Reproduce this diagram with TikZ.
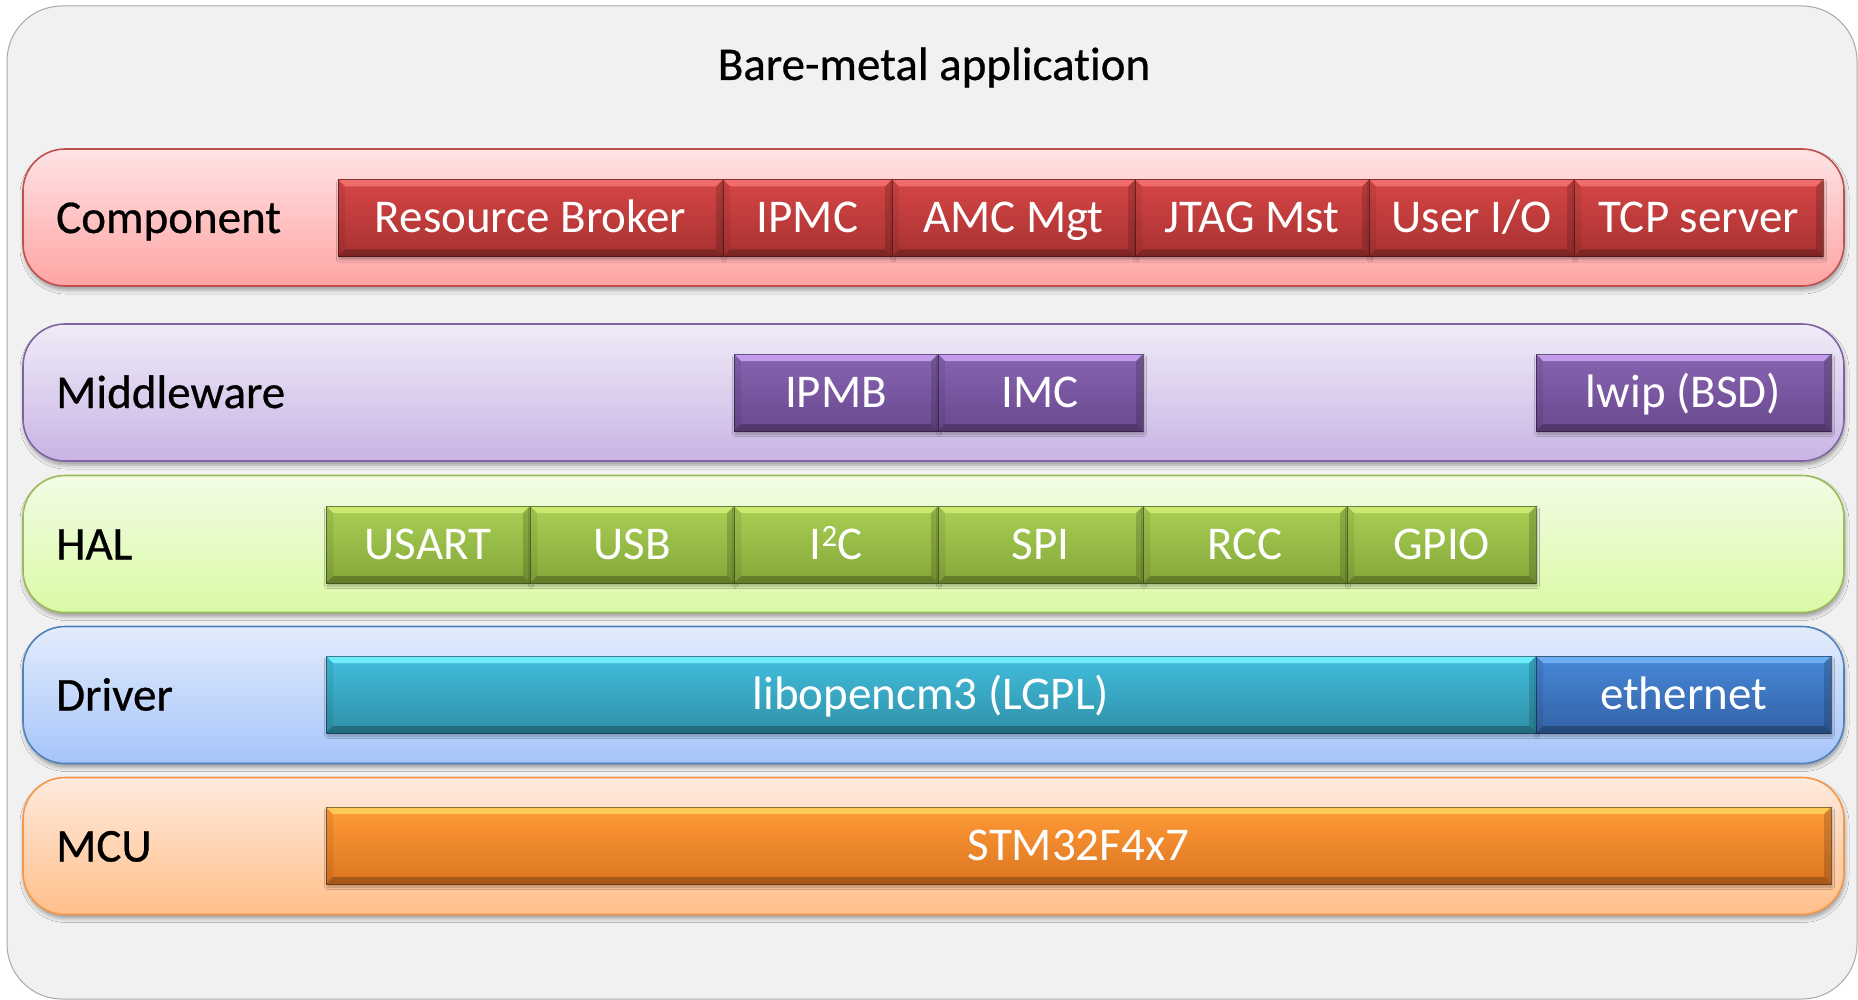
\documentclass[tikz,border=0pt]{standalone}
\usepackage{fontspec}
\setmainfont{Carlito}[Ligatures=CommonOff]
\usetikzlibrary{shadows.blur}
\definecolor{bgfill}{HTML}{F1F1F1}
\definecolor{bgline}{HTML}{A8A8A8}
% bands
\definecolor{rLine}{HTML}{C0504D}\definecolor{rTop}{HTML}{FFE3E4}\definecolor{rBot}{HTML}{FFA4A4}
\definecolor{pLine}{HTML}{8064A2}\definecolor{pTop}{HTML}{F0EBF8}\definecolor{pBot}{HTML}{C9B4E4}
\definecolor{gLine}{HTML}{9BBB59}\definecolor{gTop}{HTML}{F2FCE5}\definecolor{gBot}{HTML}{DAFAA6}
\definecolor{bLine}{HTML}{4F81BD}\definecolor{bTop}{HTML}{E3ECFC}\definecolor{bBot}{HTML}{A6C4FA}
\definecolor{oLine}{HTML}{F79646}\definecolor{oTop}{HTML}{FFEADE}\definecolor{oBot}{HTML}{FFBF8A}
% boxes
\definecolor{rbT}{HTML}{D64646}\definecolor{rbB}{HTML}{A83131}\definecolor{rbH}{HTML}{F47070}
\definecolor{pbT}{HTML}{8764B0}\definecolor{pbB}{HTML}{6A4990}\definecolor{pbH}{HTML}{C9A2F2}
\definecolor{gbT}{HTML}{A9CF54}\definecolor{gbB}{HTML}{84A739}\definecolor{gbH}{HTML}{CDEC74}
\definecolor{cbT}{HTML}{41BEDD}\definecolor{cbB}{HTML}{3090A8}\definecolor{cbH}{HTML}{74F2FF}
\definecolor{ebT}{HTML}{4688D8}\definecolor{ebB}{HTML}{3462A6}\definecolor{ebH}{HTML}{72B2F4}
\definecolor{obT}{HTML}{FF9A36}\definecolor{obB}{HTML}{DC7522}\definecolor{obH}{HTML}{FFD05C}
\newfontfamily\labfont{Carlito}[Ligatures=CommonOff]
\newfontfamily\heavyfont{Carlito}[Ligatures=CommonOff,FakeBold=0.6]
\begin{document}
\begin{tikzpicture}[x=1pt,y=-1pt,
  lbl/.style={font=\heavyfont\fontsize{47}{56}\selectfont, text=black, inner sep=0pt},
  band/.style n args={3}{rectangle, rounded corners=42pt, draw=#1, line width=1.6pt,
    top color=#2, bottom color=#3, minimum width=1821pt, minimum height=137pt, inner sep=0pt,
    blur shadow={shadow xshift=1pt, shadow yshift=-4pt, shadow blur radius=4pt, shadow opacity=35}},
  bx/.style n args={3}{rectangle, inner sep=0pt, minimum height=77pt,
    font=\labfont\fontsize{47}{56}\selectfont, text=white, text height=30pt, text depth=0pt,
    top color=#1, bottom color=#2, draw=black, draw opacity=.45, line width=.8pt,
    blur shadow={shadow xshift=1pt, shadow yshift=-3pt, shadow blur radius=2.5pt, shadow opacity=30},
    path picture={
      \fill[#3, opacity=.9] (path picture bounding box.north west) -- (path picture bounding box.north east)
        -- ([xshift=-7pt,yshift=-7pt]path picture bounding box.north east)
        -- ([xshift=7pt,yshift=-7pt]path picture bounding box.north west) -- cycle;
      \fill[black, opacity=.25] (path picture bounding box.south west) -- (path picture bounding box.south east)
        -- ([xshift=-7pt,yshift=7pt]path picture bounding box.south east)
        -- ([xshift=7pt,yshift=7pt]path picture bounding box.south west) -- cycle;
      \fill[black, opacity=.07] (path picture bounding box.north west) -- ([xshift=7pt,yshift=-7pt]path picture bounding box.north west)
        -- ([xshift=7pt,yshift=7pt]path picture bounding box.south west) -- (path picture bounding box.south west) -- cycle;
      \fill[black, opacity=.16] (path picture bounding box.north east) -- ([xshift=-7pt,yshift=-7pt]path picture bounding box.north east)
        -- ([xshift=-7pt,yshift=7pt]path picture bounding box.south east) -- (path picture bounding box.south east) -- cycle;
    }},
  redbox/.style={bx={rbT}{rbB}{rbH}},
  purbox/.style={bx={pbT}{pbB}{pbH}},
  grnbox/.style={bx={gbT}{gbB}{gbH}},
  cyanbox/.style={bx={cbT}{cbB}{cbH}},
  bluebox/.style={bx={ebT}{ebB}{ebH}},
  orgbox/.style={bx={obT}{obB}{obH}}
]
\useasboundingbox (0,0) rectangle (1858,1000);
\fill[white] (0,0) rectangle (1858,1000);
\draw[fill=bgfill, draw=bgline, line width=1pt, rounded corners=55pt] (7,6) rectangle (1857,999);

\node[lbl, anchor=base] (title) at (934,80) {Bare-metal applicat\kern0pt ion};

% bands
\node[band={rLine}{rTop}{rBot}] (bcomp) at (933.5,217.5) {};
\node[band={pLine}{pTop}{pBot}] (bmid)  at (933.5,392.5) {};
\node[band={gLine}{gTop}{gBot}] (bhal)  at (933.5,544) {};
\node[band={bLine}{bTop}{bBot}] (bdrv)  at (933.5,695) {};
\node[band={oLine}{oTop}{oBot}] (bmcu)  at (933.5,846) {};

\node[lbl, anchor=base west] (lcomp) at (56,233) {Component};
\node[lbl, anchor=base west] (lmid)  at (56,408) {Middleware};
\node[lbl, anchor=base west] (lhal)  at (56,559.5) {HAL};
\node[lbl, anchor=base west] (ldrv)  at (56,710.5) {Driver};
\node[lbl, anchor=base west] (lmcu)  at (56,861.5) {MCU};

% Component row
\node[redbox, minimum width=385pt] (rb)   at (530.5,218) {Resource Broker};
\node[redbox, minimum width=169pt] (ipmc) at (807.5,218) {IPMC};
\node[redbox, minimum width=243pt] (amc)  at (1013.5,218) {AMC Mgt};
\node[redbox, minimum width=234pt] (jtag) at (1252,218) {JTAG Mst};
\node[redbox, minimum width=205pt] (uio)  at (1471.5,218) {User I/O};
\node[redbox, minimum width=249pt] (tcp)  at (1698.5,218) {TCP server};

% Middleware row
\node[purbox, minimum width=204pt] (ipmb) at (836,392.5) {IPMB};
\node[purbox, minimum width=205pt] (imc)  at (1040.5,392.5) {IMC};
\node[purbox, minimum width=295pt] (lwip) at (1683.5,392.5) {lwip (BSD)};

% HAL row
\node[grnbox, minimum width=204pt] (usart) at (428,544.5) {USART};
\node[grnbox, minimum width=204pt] (usb)   at (632,544.5) {USB};
\node[grnbox, minimum width=204pt] (i2c)   at (836,544.5) {I\raisebox{13pt}{\fontsize{31}{31}\selectfont 2}C};
\node[grnbox, minimum width=205pt] (spi)   at (1040.5,544.5) {SPI};
\node[grnbox, minimum width=204pt] (rcc)   at (1245,544.5) {RCC};
\node[grnbox, minimum width=189pt] (gpio)  at (1441.5,544.5) {GPIO};

% Driver row
\node[cyanbox, minimum width=1210pt] (libo) at (931,694.5) {libopencm3 (LGPL)};
\node[bluebox, minimum width=295pt]  (eth)  at (1683.5,694.5) {ethernet};

% MCU row
\node[orgbox, minimum width=1505pt] (stm) at (1078.5,845.5) {STM32F4x7};
\end{tikzpicture}
\end{document}
